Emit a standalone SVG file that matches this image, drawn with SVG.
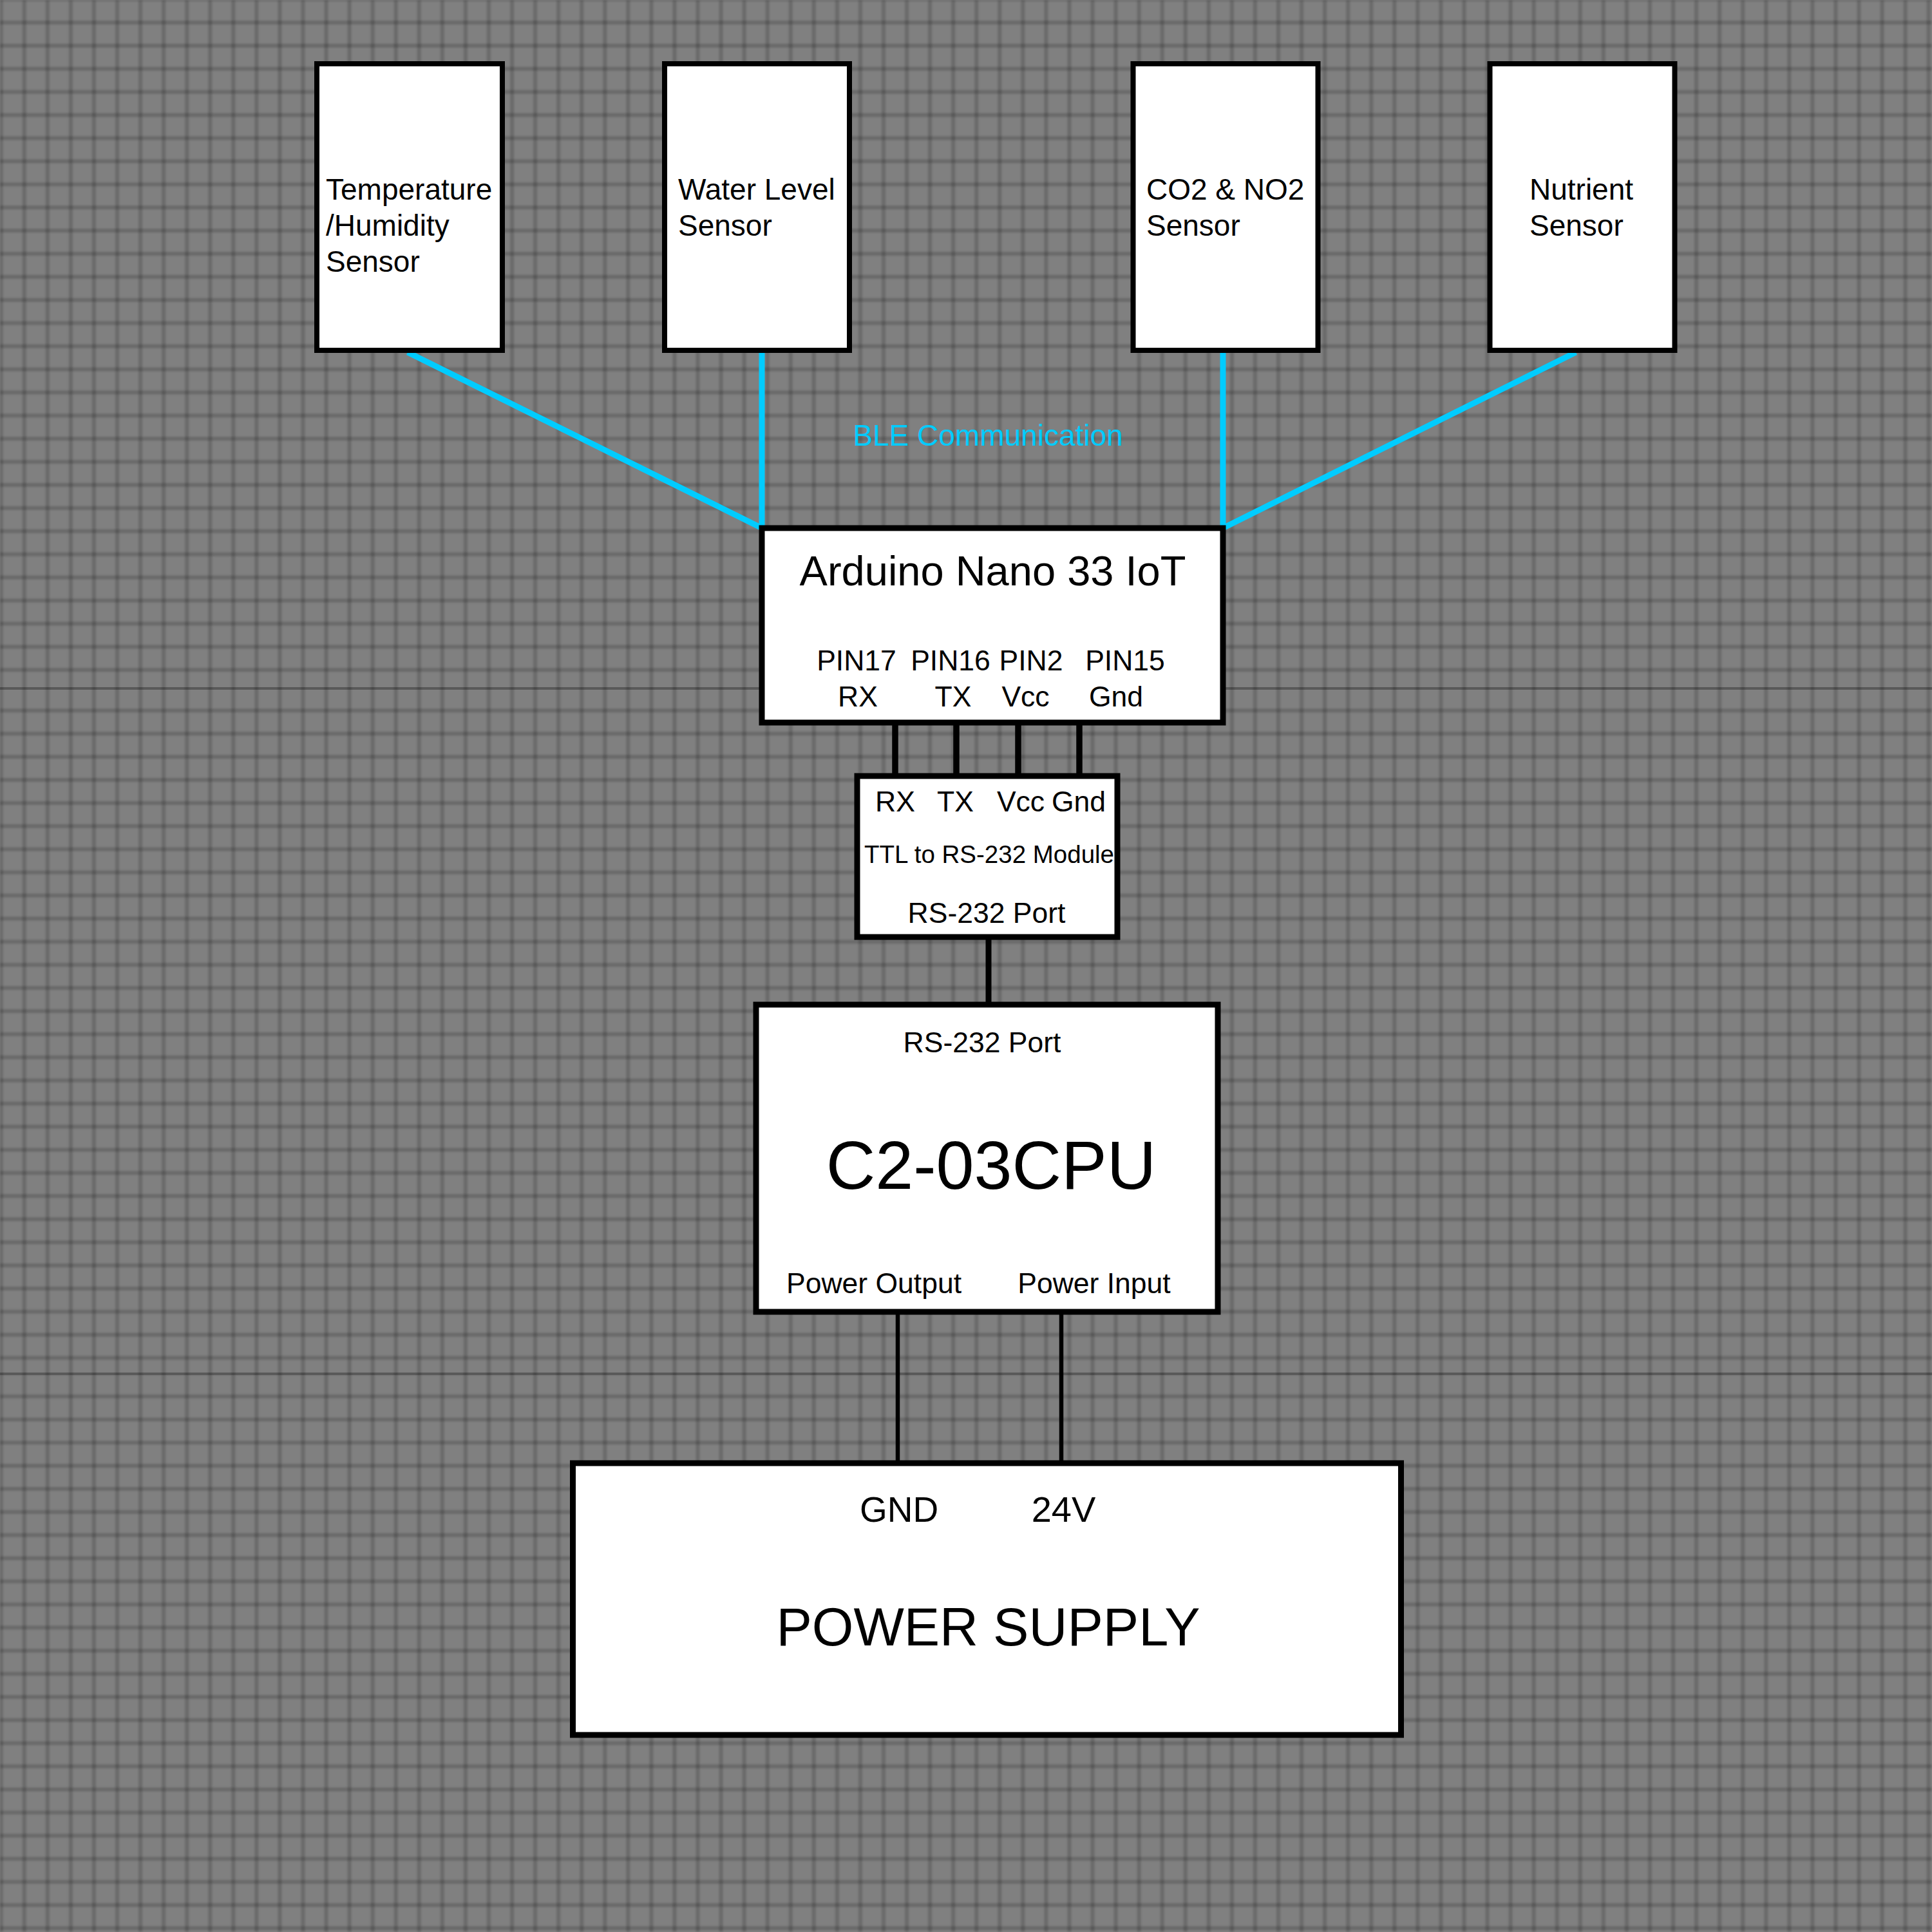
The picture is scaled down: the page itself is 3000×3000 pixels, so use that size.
<svg xmlns="http://www.w3.org/2000/svg" width="3000" height="3000" viewBox="0 0 3000 3000">
<defs>
<style>
.box{fill:#ffffff;stroke:#000000;stroke-width:9}
.sensor{stroke-width:8}
.t{font-family:"Liberation Sans",Arial,Helvetica,sans-serif;fill:#000000}
.c{text-anchor:middle}
.s46{font-size:46px}
.s44{font-size:44.5px}
.ble{stroke:#00CCFF;stroke-width:9;fill:none}
.wire{stroke:#000000;fill:none}
</style>
<filter id="soft" x="0" y="0" width="1" height="1" filterUnits="objectBoundingBox">
<feGaussianBlur stdDeviation="1.6"/>
</filter>
<pattern id="gv" patternUnits="userSpaceOnUse" x="-16.33" y="0" width="36.06" height="3000">
<rect x="15.03" y="0" width="6" height="3000" fill="#000" fill-opacity="0.17"/>
</pattern>
<pattern id="gh0" patternUnits="userSpaceOnUse" x="0" y="17.05" width="3000" height="35.9">
<rect x="0" y="14.95" width="3000" height="6" fill="#000" fill-opacity="0.17"/>
</pattern>
<pattern id="gh1" patternUnits="userSpaceOnUse" x="0" y="1085.35" width="3000" height="35.9">
<rect x="0" y="14.95" width="3000" height="6" fill="#000" fill-opacity="0.17"/>
</pattern>
<pattern id="gh2" patternUnits="userSpaceOnUse" x="0" y="2150.35" width="3000" height="35.9">
<rect x="0" y="14.95" width="3000" height="6" fill="#000" fill-opacity="0.17"/>
</pattern>
</defs>

<g id="background">
<rect x="0" y="0" width="3000" height="3000" fill="#808080"/>
<g filter="url(#soft)">
<rect x="0" y="0" width="3000" height="3000" fill="url(#gv)"/>
<rect x="0" y="0" width="3000" height="1067" fill="url(#gh0)"/>
<rect x="0" y="1071" width="3000" height="1060" fill="url(#gh1)"/>
<rect x="0" y="2135" width="3000" height="865" fill="url(#gh2)"/>
</g>
<rect x="0" y="1067" width="3000" height="4" fill="#000" fill-opacity="0.3"/>
<rect x="0" y="2131.3" width="3000" height="4" fill="#000" fill-opacity="0.3"/>
</g>

<g id="connectors">
<line class="ble" x1="633" y1="547" x2="1183" y2="820"/>
<line class="ble" x1="1183" y1="547" x2="1183" y2="820"/>
<line class="ble" x1="1899" y1="547" x2="1899" y2="820"/>
<line class="ble" x1="2447" y1="547" x2="1899" y2="820"/>
<line class="wire" stroke-width="9.5" x1="1390" y1="1122" x2="1390" y2="1205"/>
<line class="wire" stroke-width="9.5" x1="1485" y1="1122" x2="1485" y2="1205"/>
<line class="wire" stroke-width="9.5" x1="1581" y1="1122" x2="1581" y2="1205"/>
<line class="wire" stroke-width="9.5" x1="1676" y1="1122" x2="1676" y2="1205"/>
<line class="wire" stroke-width="9" x1="1535" y1="1455" x2="1535" y2="1560"/>
<line class="wire" stroke-width="6.5" x1="1394" y1="2037" x2="1394" y2="2272"/>
<line class="wire" stroke-width="6.5" x1="1648" y1="2037" x2="1648" y2="2272"/>
<text class="t c s46" x="1534" y="692" style="fill:#00CCFF">BLE Communication</text>
</g>

<g id="temp-sensor">
<rect class="box sensor" x="492" y="99" width="288" height="445"/>
<text class="t s46" x="506" y="310">Temperature</text>
<text class="t s46" x="506" y="366">/Humidity</text>
<text class="t s46" x="506" y="422">Sensor</text>
</g>

<g id="water-sensor">
<rect class="box sensor" x="1032" y="99" width="287" height="445"/>
<text class="t s46" x="1053" y="310">Water Level</text>
<text class="t s46" x="1053" y="366">Sensor</text>
</g>

<g id="co2-sensor">
<rect class="box sensor" x="1759.5" y="99" width="287" height="445"/>
<text class="t s46" x="1780" y="310">CO2 &amp; NO2</text>
<text class="t s46" x="1780" y="366">Sensor</text>
</g>

<g id="nutrient-sensor">
<rect class="box sensor" x="2313.5" y="99" width="287" height="445"/>
<text class="t s46" x="2375" y="310">Nutrient</text>
<text class="t s46" x="2375" y="366">Sensor</text>
</g>

<g id="arduino">
<rect class="box" x="1183" y="820" width="716" height="302" stroke-width="10"/>
<text class="t c" x="1541.5" y="909" font-size="65">Arduino Nano 33 IoT</text>
<text class="t c s44" x="1330" y="1041">PIN17</text>
<text class="t c s44" x="1476" y="1041">PIN16</text>
<text class="t c s44" x="1601" y="1041">PIN2</text>
<text class="t c s44" x="1747" y="1041">PIN15</text>
<text class="t c s44" x="1332" y="1097">RX</text>
<text class="t c s44" x="1480" y="1097">TX</text>
<text class="t c s44" x="1592.5" y="1097">Vcc</text>
<text class="t c s44" x="1733" y="1097">Gnd</text>
</g>

<g id="ttl-module">
<rect class="box" x="1331" y="1205" width="404" height="250" stroke-width="8"/>
<text class="t c s44" x="1390" y="1260">RX</text>
<text class="t c s44" x="1483.5" y="1260">TX</text>
<text class="t c s44" x="1585" y="1260">Vcc</text>
<text class="t c s44" x="1675" y="1260">Gnd</text>
<text class="t c" x="1536" y="1340" font-size="38.5">TTL to RS-232 Module</text>
<text class="t c s44" x="1532" y="1433">RS-232 Port</text>
</g>

<g id="cpu">
<rect class="box" x="1174" y="1560" width="717" height="477"/>
<text class="t c s44" x="1525" y="1634">RS-232 Port</text>
<text class="t c" x="1539" y="1846" font-size="106">C2-03CPU</text>
<text class="t c s44" x="1357" y="2008">Power Output</text>
<text class="t c s44" x="1699" y="2008">Power Input</text>
</g>

<g id="power-supply">
<rect class="box" x="889.5" y="2272" width="1286" height="422" stroke-width="10"/>
<text class="t c" x="1396" y="2363" font-size="55">GND</text>
<text class="t c" x="1651.5" y="2363" font-size="56">24V</text>
<text class="t c" x="1534.5" y="2555" font-size="83">POWER SUPPLY</text>
</g>
</svg>
